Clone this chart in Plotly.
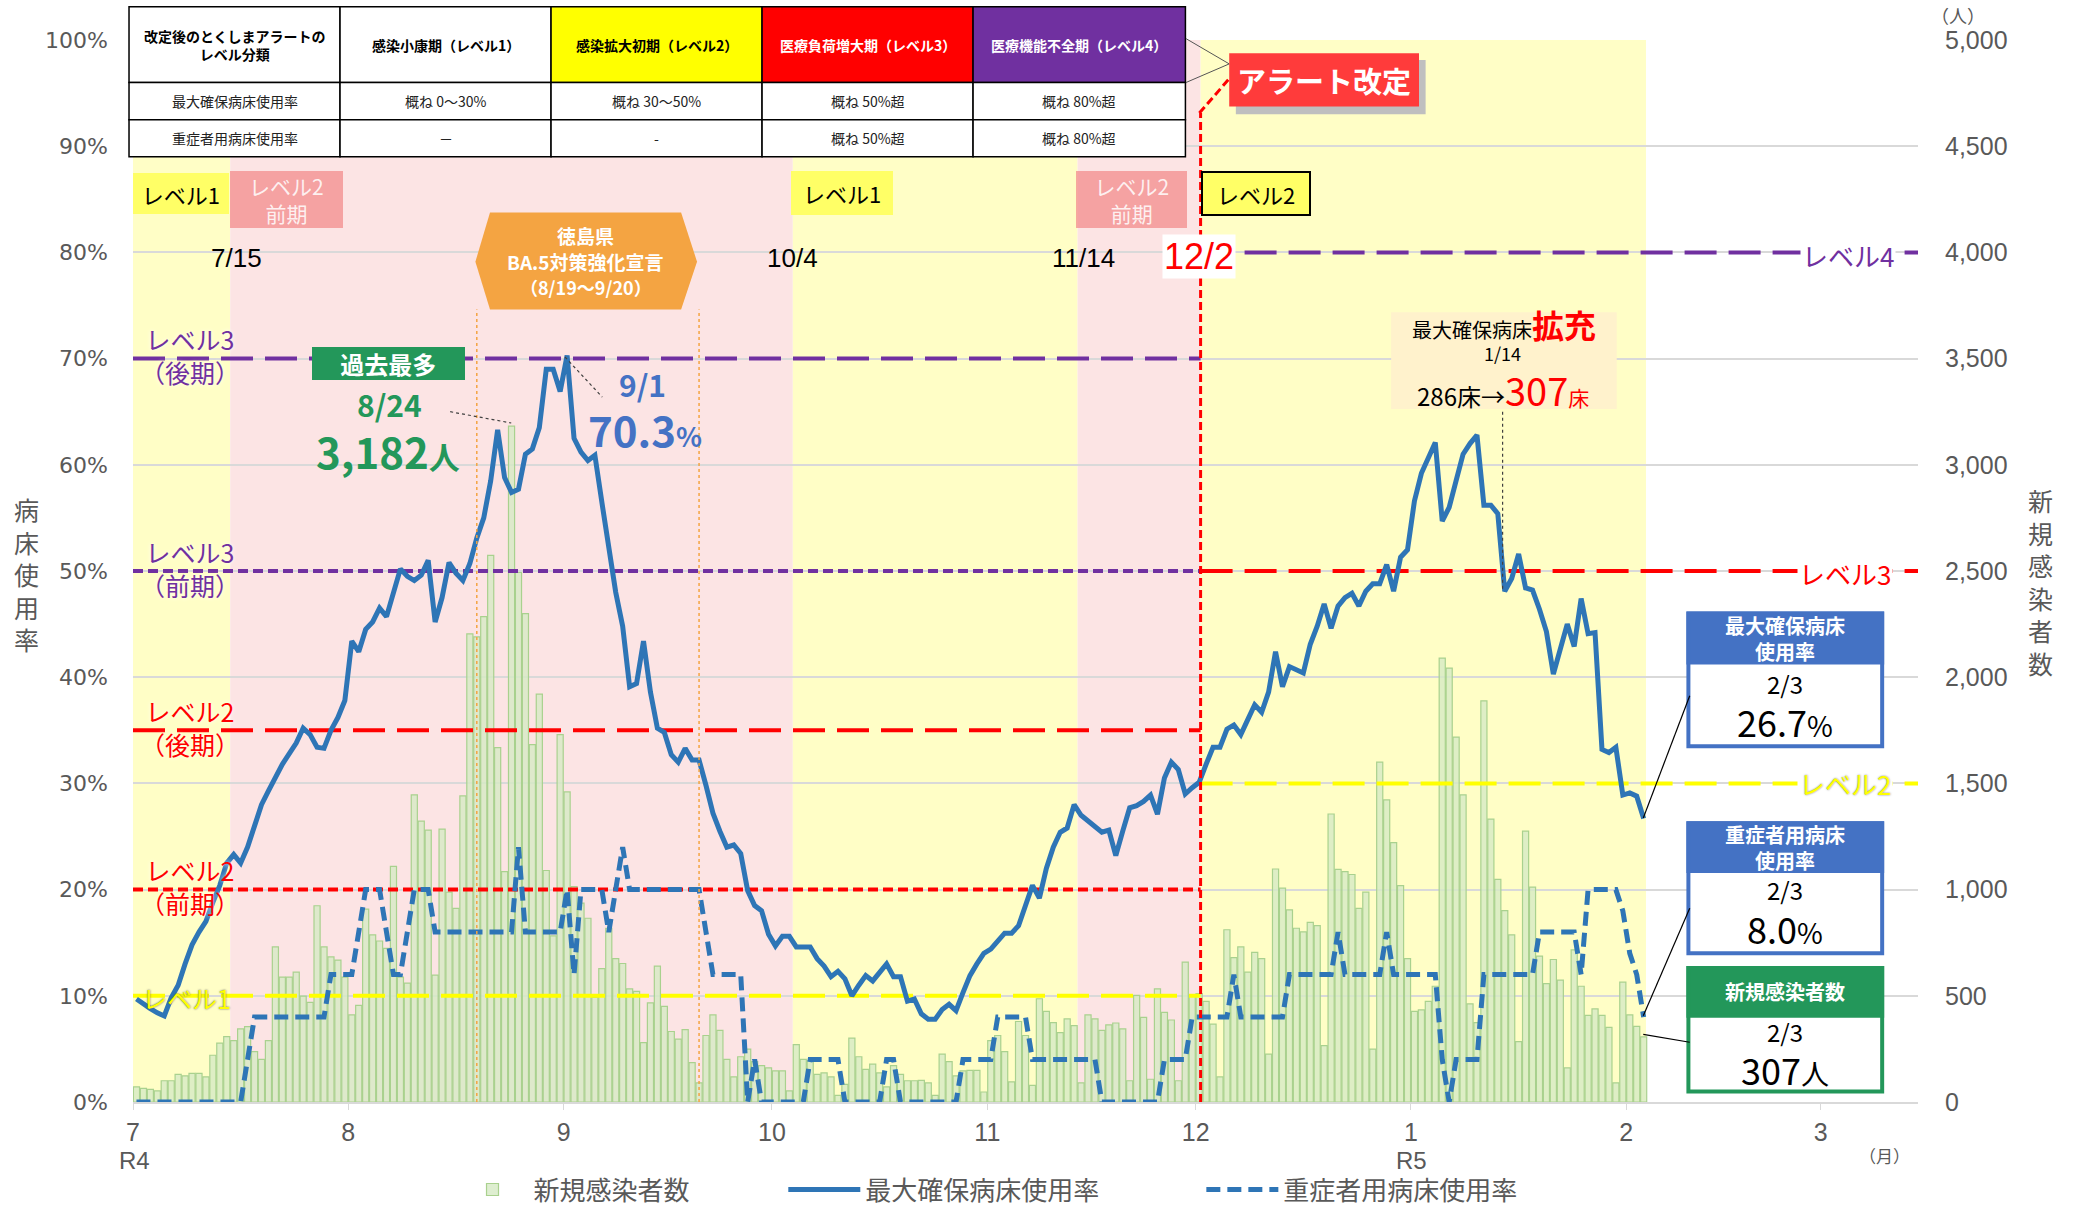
import pandas as pd
import plotly.graph_objects as go

JP = "Noto Sans CJK JP"
GRAY = "#595959"
PURPLE = "#7030A0"
RED = "#FF0000"
YELLOW = "#FFFF00"
BLUE = "#2E75B6"
LBLUE = "#4472C4"
GREEN = "#23975A"

# ---------------- data ----------------
dates = pd.date_range("2022-07-01 12:00", periods=218, freq="D")  # 2022/7/1 – 2023/2/3

new_cases = [
    71, 64, 59, 52, 100, 100, 130, 123, 135, 135, 118, 220, 277, 308, 289, 344, 355, 237, 201, 289,
    730, 588, 588, 611, 498, 469, 924, 730, 683, 668, 588, 410, 455, 908, 787, 758, 723, 1109, 588, 560,
    1446, 1322, 1280,
    597, 1285, 988, 912, 1441, 2204, 2190, 2285, 2574, 1668, 1085, 3182, 2493, 2299, 1683, 1920, 1090, 782,
    1730, 1460, 1014, 936, 865, 493, 628, 818, 675, 652, 533, 521, 280, 467, 640, 450, 332, 296, 341, 185,
    90, 313, 410, 337, 201, 118, 213, 249,
    190, 171, 161, 147, 147, 52, 270, 201, 194, 130, 137, 118, 31, 83, 301, 213, 154, 178, 137, 71,
    171, 130, 100, 100, 102, 90, 31, 225, 190, 123, 147, 149, 149, 47, 289, 313, 237, 95, 379, 313,
    78, 486, 427, 374, 327,
    391, 360, 90, 410, 391, 337, 363, 372, 344, 100, 502, 398, 107, 533, 422, 386, 100, 659, 502, 510,
    474, 367, 118, 811, 680, 730, 611, 704, 675, 225, 1097, 1007, 905, 818, 801, 846, 830, 265, 1356, 1095,
    1085,
    1071, 912, 988, 249, 1600, 1422, 1221, 1019, 675, 427, 434, 474, 545, 2090, 2043, 1718, 1446, 462, 374, 1889,
    1332, 1048, 901, 787, 284, 1275, 1012, 687, 557, 671, 574, 161, 716, 545, 408, 438, 408, 351, 90, 564,
    410, 356, 307,
]

max_bed_rate = [
    9.7, 9.2, 8.8, 8.4, 8.1, 9.8, 11.0, 13.0, 14.8, 16.0,
    17.0, 18.8, 20.4, 22.5, 23.3, 22.5, 24.0, 26.0, 28.0, 29.3,
    30.6, 31.8, 32.8, 33.8, 35.2, 34.6, 33.4, 33.3, 35.0, 36.2,
    37.8, 43.4, 42.4, 44.5, 45.2, 46.5, 45.7, 47.8, 50.2, 49.5,
    49.1, 49.6, 51.0, 45.2, 47.5, 50.8, 49.8, 49.1, 50.7, 53.1,
    55.0, 58.5, 63.3, 58.8, 57.4, 57.7, 61.0, 61.5, 63.5, 69.0,
    69.0, 66.9, 70.3, 62.5, 61.2, 60.4, 60.9, 56.5, 52.5, 48.0,
    44.8, 39.1, 39.4, 43.4, 38.6, 35.2, 34.8, 32.7, 32.0, 33.3,
    32.2, 32.2, 29.8, 27.2, 25.5, 24.0, 24.2, 23.4, 19.9, 18.5,
    18.0, 15.8, 14.7, 15.6, 15.6, 14.6, 14.6, 14.6, 13.5, 12.8,
    11.8, 12.3, 11.6, 10.0, 11.0, 11.9, 11.4, 12.2, 13.0, 11.8,
    11.8, 9.5, 9.7, 8.3, 7.8, 7.8, 8.7, 9.2, 8.6, 10.3,
    11.9, 13.0, 14.0, 14.4, 15.2, 15.9, 15.9, 16.6, 18.5, 20.4,
    19.2, 22.0, 24.0, 25.4, 25.8, 28.0, 27.0, 26.5, 25.9, 25.4,
    25.6, 23.2, 25.5, 27.7, 27.9, 28.3, 28.9, 27.1, 30.5, 32.0,
    31.3, 29.0, 29.6, 30.1, 31.8, 33.4, 33.4, 35.1, 35.5, 34.6,
    36.0, 37.4, 36.7, 38.6, 42.4, 39.1, 41.0, 40.7, 40.4, 43.1,
    44.8, 46.9, 44.6, 46.7, 47.5, 47.9, 46.7, 48.1, 48.8, 48.8,
    50.6, 48.1, 51.3, 52.0, 56.6, 59.2, 60.6, 62.1, 54.7, 56.0,
    58.5, 61.0, 62.0, 62.8, 56.2, 56.2, 55.4, 48.1, 49.3, 51.6,
    48.4, 48.2, 46.4, 44.3, 40.3, 42.7, 45.0, 42.9, 47.4, 44.1,
    44.2, 33.2, 32.9, 33.4, 28.9, 29.1, 28.8, 26.7,
]

severe_bed_rate = [
    0, 0, 0, 0, 0, 0, 0, 0, 0, 0, 0, 0, 0, 0, 0, 0, 4, 8, 8, 8,
    8, 8, 8, 8, 8, 8, 8, 8, 12, 12, 12, 12, 16, 20, 20, 20, 16, 12, 12, 16,
    20, 20, 20, 16, 16, 16, 16, 16, 16, 16, 16, 16, 16, 16, 16, 24, 16, 16, 16, 16,
    16, 16, 20, 12, 20, 20, 20, 20, 16, 20, 24, 20, 20, 20, 20, 20, 20, 20, 20, 20,
    20, 20, 16, 12, 12, 12, 12, 12, 0, 4, 0, 0, 0, 0, 0, 0, 0, 4, 4, 4,
    4, 4, 0, 0, 0, 0, 0, 0, 4, 4, 0, 0, 0, 0, 0, 0, 0, 0, 0, 4,
    4, 4, 4, 4, 8, 8, 8, 8, 8, 4, 4, 4, 4, 4, 4, 4, 4, 4, 4, 0,
    0, 0, 0, 0, 0, 0, 0, 0, 4, 4, 4, 4, 8, 8, 8, 8, 8, 8, 12, 8,
    8, 8, 8, 8, 8, 8, 12, 12, 12, 12, 12, 12, 12, 16, 12, 12, 12, 12, 12, 12,
    16, 12, 12, 12, 12, 12, 12, 12, 4, 0, 4, 4, 4, 4, 12, 12, 12, 12, 12, 12,
    12, 12, 16, 16, 16, 16, 16, 16, 12, 20, 20, 20, 20, 20, 18, 14, 12, 8,
]

month_ticks = ["2022-07-01", "2022-08-01", "2022-09-01", "2022-10-01", "2022-11-01",
               "2022-12-01", "2023-01-01", "2023-02-01", "2023-03-01"]
month_labels = ["7", "8", "9", "10", "11", "12", "1", "2", "3"]

ALERT_DATE = "2022-12-01 17:00"   # 12/2 alert revision
PERIODS = [  # (start, end, alert level background)
    ("2022-07-01 00:00", "2022-07-15 00:00", "level1"),
    ("2022-07-15 00:00", "2022-10-04 00:00", "level2"),
    ("2022-10-04 00:00", "2022-11-14 00:00", "level1"),
    ("2022-11-14 00:00", ALERT_DATE, "level2"),
    (ALERT_DATE, "2023-02-03 20:00", "level1"),
]
EARLY_LEVELS = [70, 50, 35, 20, 10]
EARLY_COLORS = [PURPLE, PURPLE, RED, RED, YELLOW]
EARLY_DASH = ["32px,12px", "10px,5px", "32px,12px", "10px,5px", "32px,12px"]
LATE_LEVELS = [80, 50, 30]
LATE_COLORS = [PURPLE, RED, YELLOW]
BA5_START, BA5_END = "2022-08-19 12:00", "2022-09-20 12:00"

assert len(new_cases) == len(max_bed_rate) == len(severe_bed_rate) == len(dates)

# -------------- helpers (positions given in reference pixels, shrunk 1568 scale) --------------
def PX(xs):
    return (xs - 100) / 1345.0


def PY(ys):
    return (830 - ys) / 800.0


fig = go.Figure()

# ---------------- traces ----------------
fig.add_trace(go.Bar(
    x=dates, y=new_cases, name="新規感染者数", yaxis="y", legend="legend",
    marker=dict(color="rgba(214,234,196,0.8)", line=dict(color="#A9D18E", width=1.2)),
))
for lv, c, d in zip(EARLY_LEVELS, EARLY_COLORS, EARLY_DASH):
    fig.add_trace(go.Scatter(x=["2022-07-01 00:00", ALERT_DATE], y=[lv, lv], yaxis="y2", mode="lines",
                             line=dict(color=c, width=4, dash=d), showlegend=False, hoverinfo="skip"))
for lv, c in zip(LATE_LEVELS, LATE_COLORS):
    fig.add_trace(go.Scatter(x=[ALERT_DATE, "2023-03-15 00:00"], y=[lv, lv], yaxis="y2", mode="lines",
                             line=dict(color=c, width=4, dash="32px,12px"), showlegend=False, hoverinfo="skip"))
fig.add_trace(go.Scatter(x=dates, y=max_bed_rate, name="最大確保病床使用率", yaxis="y2", mode="lines",
                         line=dict(color=BLUE, width=5), legend="legend2"))
fig.add_trace(go.Scatter(x=dates, y=severe_bed_rate, name="重症者用病床使用率", yaxis="y2", mode="lines",
                         line=dict(color=BLUE, width=5, dash="14px,7px"), legend="legend3"))

# ---------------- background periods ----------------
for x0, x1, kind in PERIODS:
    fig.add_shape(type="rect", xref="x", yref="paper", x0=x0, x1=x1, y0=0, y1=1,
                  fillcolor="#FFFEC6" if kind == "level1" else "#FCE4E4", line_width=0, layer="below")

# orange dotted lines for BA.5 period
for xd in (BA5_START, BA5_END):
    fig.add_shape(type="line", xref="x", yref="paper", x0=xd, x1=xd, y0=0, y1=PY(233),
                  line=dict(color="#F4A442", width=1.5, dash="dot"))

# red alert-revision line
fig.add_shape(type="line", xref="x", yref="paper", x0=ALERT_DATE, x1=ALERT_DATE, y0=0, y1=PY(85),
              line=dict(color=RED, width=3, dash="8px,4px"))
fig.add_shape(type="line", xref="paper", yref="paper", x0=PX(903.5), y0=PY(85), x1=PX(927), y1=PY(58),
              line=dict(color=RED, width=3, dash="8px,4px"))


def line(x0, y0, x1, y1, color="#404040", width=1.2, dash="solid"):
    fig.add_shape(type="line", xref="paper", yref="paper", x0=PX(x0), y0=PY(y0), x1=PX(x1), y1=PY(y1),
                  line=dict(color=color, width=width, dash=dash))


def rect(x0, y0, x1, y1, fill, lc=None, lw=0):
    fig.add_shape(type="rect", xref="paper", yref="paper", x0=PX(x0), y0=PY(y0), x1=PX(x1), y1=PY(y1),
                  fillcolor=fill, line=dict(color=lc or fill, width=lw))


def ann(text, xs, ys, size, color="black", bold=False, family=JP, **kw):
    fig.add_annotation(x=PX(xs), y=PY(ys), xref="paper", yref="paper",
                       text=f"<b>{text}</b>" if bold else text, showarrow=False,
                       font=dict(size=size, color=color, family=family),
                       xanchor="center", yanchor="middle", **kw)


# leader lines
line(339, 310, 385, 318.5, dash="dot")
line(425.5, 268.8, 453.6, 299, dash="dot")
line(1132, 310, 1132, 445, dash="dot")

# ---------------- table ----------------
TABLE_COLS = [97, 256, 415, 574, 733, 893]
TABLE_ROWS = [5, 62, 90, 118]
table_header = ["改定後のとくしまアラートの<br>レベル分類", "感染小康期（レベル1）", "感染拡大初期（レベル2）",
                "医療負荷増大期（レベル3）", "医療機能不全期（レベル4）"]
header_fill = ["white", "white", "#FFFF00", "#FF0000", "#7030A0"]
header_font = ["black", "black", "black", "white", "white"]
table_rows = [["最大確保病床使用率", "概ね 0～30%", "概ね 30～50%", "概ね 50%超", "概ね 80%超"],
              ["重症者用病床使用率", "－", "-", "概ね 50%超", "概ね 80%超"]]
for i in range(5):
    x0, x1 = TABLE_COLS[i], TABLE_COLS[i + 1]
    rect(x0, TABLE_ROWS[0], x1, TABLE_ROWS[1], header_fill[i], "black", 1.5)
    ann(table_header[i], (x0 + x1) / 2, (TABLE_ROWS[0] + TABLE_ROWS[1]) / 2, 14, header_font[i], bold=True)
    for r in range(2):
        rect(x0, TABLE_ROWS[r + 1], x1, TABLE_ROWS[r + 2], "white", "black", 1.5)
        ann(table_rows[r][i], (x0 + x1) / 2, (TABLE_ROWS[r + 1] + TABLE_ROWS[r + 2]) / 2, 14, "#222222")

# connector from table to alert box
line(893.5, 29, 926, 48, color="#555555", width=1)
line(893.5, 62, 926, 48, color="#555555", width=1)

# アラート改定 box with shadow
rect(931, 45, 1074, 86, "#BFBFBF")
rect(926, 40, 1069, 80, "#FF3B3B")
ann("アラート改定", 997.5, 60, 29, "white", bold=True)

# ---------------- level boxes ----------------
S = 2081 / 1568.0


def box(text, x0, y0, x1, y1, bg, fc, size, border=None):
    fig.add_annotation(x=PX((x0 + x1) / 2), y=PY((y0 + y1) / 2), xref="paper", yref="paper",
                       text=text, showarrow=False, width=(x1 - x0) * S, height=(y1 - y0) * S,
                       bgcolor=bg, bordercolor=border or bg, borderwidth=2 if border else 0, borderpad=0,
                       font=dict(size=size, color=fc, family=JP), xanchor="center", yanchor="middle")


box("レベル1", 100, 130, 172, 161, "#FFFF66", "black", 22)
box("レベル2<br>前期", 173, 129, 258, 172, "rgba(243,140,140,0.75)", "rgba(255,255,255,0.85)", 21)
box("レベル1", 596, 129, 673, 162, "#FFFF66", "black", 22)
box("レベル2<br>前期", 810, 129, 894, 172, "rgba(243,140,140,0.75)", "rgba(255,255,255,0.85)", 21)
box("レベル2", 906, 130, 986, 161, "#FFFF66", "black", 22, border="black")

# dates
ann("7/15", 178, 194, 26, "black", family="Liberation Sans")
ann("10/4", 597, 194, 26, "black", family="Liberation Sans")
ann("11/14", 816, 194, 26, "black", family="Liberation Sans")
ann("12/2", 903, 193, 36, RED, family="Liberation Sans", bgcolor="white")

# BA.5 hexagon
hexpath = "M {} {} L {} {} L {} {} L {} {} L {} {} L {} {} Z".format(
    PX(358), PY(197), PX(369), PY(160), PX(513), PY(160), PX(525), PY(197), PX(513), PY(233), PX(369), PY(233))
fig.add_shape(type="path", xref="paper", yref="paper", path=hexpath, fillcolor="#F4A442", line_width=0)
ann("徳島県", 441, 177, 19, "white", bold=True)
ann("BA.5対策強化宣言", 441, 197, 19, "white", bold=True)
ann("（8/19～9/20）", 441, 216, 18, "white", bold=True)

# 過去最多
box("<b>過去最多</b>", 235, 261, 350, 286, GREEN, "white", 24)
ann("8/24", 293, 304, 30, GREEN, bold=True)
ann("3,182<span style='font-size:31px'>人</span>", 292, 339, 42, GREEN, bold=True)
ann("9/1", 484, 289, 30, LBLUE, bold=True)
ann("70.3<span style='font-size:27px'>%</span>", 486, 323, 42, LBLUE, bold=True)

# 拡充 box
rect(1048, 235, 1218, 308, "#FFF2CC")
ann("最大確保病床<span style='font-size:32px;color:#FF0000'><b>拡充</b></span>", 1133, 244, 20, "black")
ann("1/14", 1132, 266, 18, "black")
ann("286床→<span style='font-size:38px;color:#FF0000'>307</span>"
    "<span style='font-size:21px;color:#FF0000'>床</span>", 1132, 293, 24, "black")

# level labels (left)
SH = "0px 0px 4px white"
for txt, y, c in [("レベル3<br>（後期）", 268, PURPLE), ("レベル3<br>（前期）", 428, PURPLE),
                  ("レベル2<br>（後期）", 548, RED), ("レベル2<br>（前期）", 668, RED)]:
    fig.add_annotation(x=PX(143), y=PY(y), xref="paper", yref="paper", text=txt, showarrow=False,
                       font=dict(size=25, color=c, family=JP, shadow=SH), xanchor="center", yanchor="middle")
fig.add_annotation(x=PX(140), y=PY(752), xref="paper", yref="paper", text="レベル1", showarrow=False,
                   font=dict(size=25, color="#FFFF00", family=JP, shadow="0px 0px 2px #555555"),
                   xanchor="center", yanchor="middle")
# level labels (right)
ann("レベル4", 1392, 192, 26, PURPLE, bgcolor="white")
ann("レベル3", 1390, 432, 26, RED, bgcolor="white")
fig.add_annotation(x=PX(1390), y=PY(590), xref="paper", yref="paper", text="レベル2", showarrow=False,
                   bgcolor="white", font=dict(size=26, color="#FFFF00", family=JP, shadow="0px 0px 2px #777777"),
                   xanchor="center", yanchor="middle")

# ---------------- right value boxes ----------------
def valbox(y0, yh, y1, color, title, lines_):
    rect(1272, y0, 1418, y1, "white", color, 4)
    rect(1272, y0, 1418, yh, color, color, 4)
    ann(title, 1345, (y0 + yh) / 2, 20, "white", bold=True)
    for txt, yy, sz in lines_:
        ann(txt, 1345, yy, sz, "black")


valbox(462, 499, 562, LBLUE, "最大確保病床<br>使用率",
       [("2/3", 515, 24), ("26.7<span style='font-size:28px'>%</span>", 543, 36)])
valbox(620, 656, 718, LBLUE, "重症者用病床<br>使用率",
       [("2/3", 670, 24), ("8.0<span style='font-size:28px'>%</span>", 699, 36)])
valbox(729, 765, 822, GREEN, "新規感染者数",
       [("2/3", 777, 24), ("307<span style='font-size:28px'>人</span>", 805, 36)])
line(1273, 524, 1238, 616, color="black")
line(1273, 684, 1238, 765, color="black")
line(1273, 785, 1238, 779, color="black")

# axis titles / units (vertical stacked text)
ann("<br>".join("病床使用率"), 20, 432, 25, GRAY)
ann("<br>".join("新規感染者数"), 1537, 438, 25, GRAY)
ann("（人）", 1475, 11, 18, GRAY)
ann("（月）", 1420, 870, 17, GRAY)
ann("R4", 101, 874, 24, GRAY, family="Liberation Sans")
ann("R5", 1063, 874, 24, GRAY, family="Liberation Sans")

# ---------------- layout ----------------
LEG = dict(orientation="h", xanchor="left", yanchor="middle", y=PY(896),
           font=dict(size=26, color=GRAY, family=JP), itemwidth=72, bgcolor="rgba(0,0,0,0)")
fig.update_layout(
    width=2081, height=1208,
    margin=dict(l=133, r=163, t=40, b=106, autoexpand=False),
    paper_bgcolor="white", plot_bgcolor="white",
    bargap=0.12,
    font=dict(family=JP, color=GRAY),
    showlegend=True,
    legend=dict(LEG, x=PX(340)),
    legend2=dict(LEG, x=PX(590)),
    legend3=dict(LEG, x=PX(905)),
    xaxis=dict(type="date", range=["2022-07-01 00:00", "2023-03-15 00:00"], tickvals=month_ticks,
               ticktext=month_labels, showgrid=False, showline=True, linecolor="#D9D9D9", linewidth=2,
               ticks="outside", ticklen=6, tickcolor="#D9D9D9", ticklabelstandoff=1,
               tickfont=dict(size=25, color=GRAY, family="Liberation Sans"), zeroline=False),
    yaxis=dict(range=[0, 5000], dtick=500, tickformat=",", side="right", showgrid=True,
               gridcolor="#D9D9D9", gridwidth=1.5, zeroline=False, ticklabelstandoff=26,
               tickfont=dict(size=25, color=GRAY, family="Liberation Sans")),
    yaxis2=dict(range=[0, 100], dtick=10, ticksuffix="%", side="left", overlaying="y",
                showgrid=False, zeroline=False, ticklabelstandoff=24,
                tickfont=dict(size=22, color=GRAY, family="DejaVu Sans")),
)

fig.write_html("out.html", config={"displayModeBar": False},
               post_script="document.body.style.margin='0';")
